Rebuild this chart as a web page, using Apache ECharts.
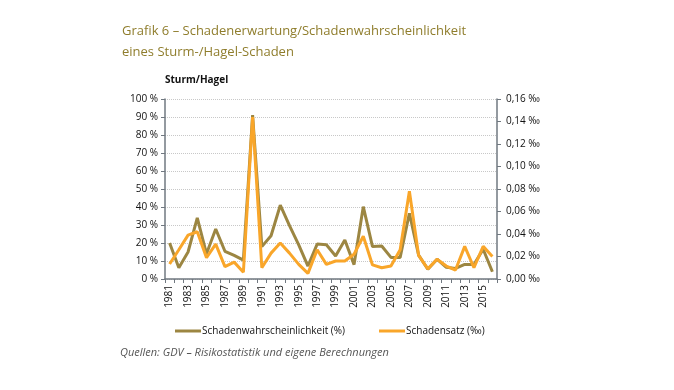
<!DOCTYPE html>
<html><head><meta charset="utf-8">
<script src="https://cdn.jsdelivr.net/npm/echarts@6/dist/echarts.min.js"></script>
<style>html,body{margin:0;padding:0;background:#fff}#c{width:674px;height:390px}</style>
</head><body><div id="c"></div>
<script>
const years = ['1981','1982','1983','1984','1985','1986','1987','1988','1989','1990','1991','1992','1993','1994','1995','1996','1997','1998','1999','2000','2001','2002','2003','2004','2005','2006','2007','2008','2009','2010','2011','2012','2013','2014','2015','2016'];
const wahrscheinlichkeit = [20,6.3,15,34,14,27.8,15.4,13.1,10.5,91,18,24,41,29.6,19,7.2,19.4,19,12.8,21.7,8,40.2,18,18.3,12,12,36.5,13.3,5.4,11,6.5,5.9,8.1,8.1,16.5,4];
const schadensatz = [0.0133,0.026,0.039,0.042,0.019,0.031,0.011,0.015,0.006,0.144,0.010,0.023,0.032,0.023,0.013,0.005,0.026,0.013,0.016,0.016,0.022,0.038,0.0125,0.010,0.0115,0.026,0.078,0.021,0.009,0.0175,0.0115,0.008,0.029,0.010,0.029,0.020];
const leftTicks = {min:0,max:100,interval:10};
const rightTicks = {min:0,max:0.16,interval:0.02};

const chart = echarts.init(document.getElementById('c'));
const font = 'Open Sans';
const axisCol = '#707880';
chart.setOption({
  animation:false,
  textStyle:{fontFamily:font},
  graphic:[
    {type:'text',left:122,top:25,style:{text:'Grafik 6 – Schadenerwartung/Schadenwahrscheinlichkeit',fill:'#8F7D2C',font:'13px "Open Sans"'}},
    {type:'text',left:122,top:46,style:{text:'eines Sturm-/Hagel-Schaden',fill:'#8F7D2C',font:'13px "Open Sans"'}},
    {type:'text',left:165,top:75,style:{text:'Sturm/Hagel',fill:'#111',font:'bold 10px "Open Sans"'}},
    {type:'text',left:120,top:347,style:{text:'Quellen: GDV – Risikostatistik und eigene Berechnungen',fill:'#555',font:'italic 11px "Open Sans"'}}
  ],
  legend:{
    top:321,left:170,itemGap:34,itemWidth:26,itemHeight:3,icon:'rect',
    textStyle:{fontSize:10,color:'#111',padding:[0,0,0,-4]},
    data:['Schadenwahrscheinlichkeit (%)','Schadensatz (‰)']
  },
  grid:{left:165,right:177,top:99,bottom:111},
  xAxis:{
    type:'category',data:years,boundaryGap:true,
    axisLine:{lineStyle:{color:axisCol,width:1.5}},
    axisTick:{show:true,interval:0,length:4,lineStyle:{color:axisCol}},
    axisLabel:{rotate:90,interval:1,fontSize:10,color:'#111',margin:6}
  },
  yAxis:[
    {type:'value',min:leftTicks.min,max:leftTicks.max,interval:leftTicks.interval,
     axisLine:{show:true,lineStyle:{color:axisCol,width:1.5}},
     axisTick:{show:true,length:4,lineStyle:{color:axisCol}},
     axisLabel:{formatter:v=>v+' %',fontSize:10,color:'#111',margin:7},
     splitLine:{show:true,lineStyle:{color:'#c8c8c8',type:'dotted',width:1}}},
    {type:'value',min:rightTicks.min,max:rightTicks.max,interval:rightTicks.interval,position:'right',
     axisLine:{show:true,lineStyle:{color:axisCol,width:1.5}},
     axisTick:{show:true,length:4,lineStyle:{color:axisCol}},
     axisLabel:{formatter:v=>v.toFixed(2).replace('.',',')+' ‰',fontSize:10,color:'#111',margin:9},
     splitLine:{show:false}}
  ],
  series:[
    {name:'Schadenwahrscheinlichkeit (%)',type:'line',yAxisIndex:0,data:wahrscheinlichkeit,symbol:'none',
     lineStyle:{color:'#9C8642',width:3},itemStyle:{color:'#9C8642'}},
    {name:'Schadensatz (‰)',type:'line',yAxisIndex:1,data:schadensatz,symbol:'none',
     lineStyle:{color:'#F9A62A',width:3},itemStyle:{color:'#F9A62A'}}
  ]
});
</script></body></html>
